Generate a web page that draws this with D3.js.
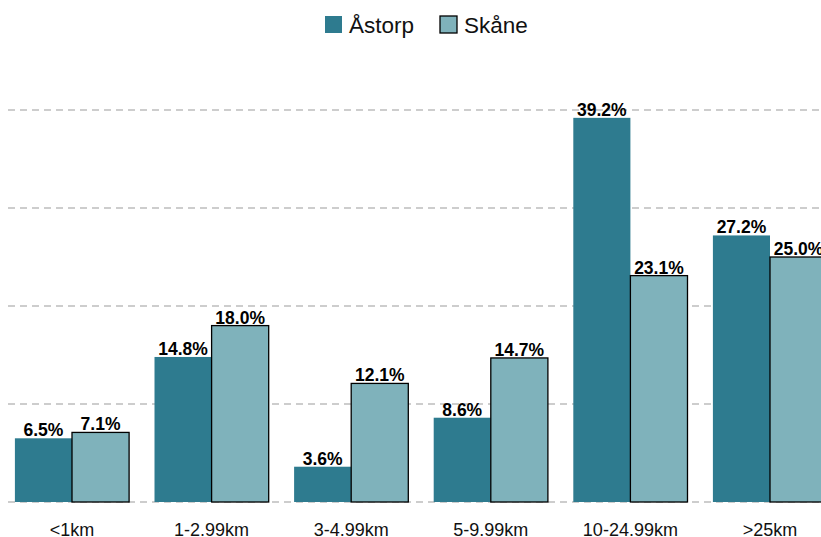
<!DOCTYPE html>
<html>
<head>
<meta charset="utf-8">
<script src="https://cdn.jsdelivr.net/npm/d3@7"></script>
<style>
  body { margin: 0; background: #fff; }
  text { font-family: "Liberation Sans", Arial, sans-serif; }
</style>
</head>
<body>
<div id="chart"></div>
<script>
let categories = ["<1km", "1-2.99km", "3-4.99km", "5-9.99km", "10-24.99km", ">25km"];
let seriesNames = ["Åstorp", "Skåne"];
let astorp = [6.5, 14.8, 3.6, 8.6, 39.2, 27.2];
let skane = [7.1, 18.0, 12.1, 14.7, 23.1, 25.0];
let gridValues = [0, 10, 20, 30, 40];

let colors = { "Åstorp": "#2e7b8f", "Skåne": "#7fb2bb" };
let W = 821, H = 537;

let data = categories.map((c, i) => ({ cat: c, values: [
    { key: "Åstorp", v: astorp[i] },
    { key: "Skåne", v: skane[i] }
]}));

let svg = d3.select("#chart")
    .append("svg")
        .attr("width", W)
        .attr("height", H);

// x band per category
let x0 = d3.scaleBand()
    .domain(categories)
    .range([2.2, 839.8])
    .padding(0);

let groupW = x0.bandwidth() * 0.818;
let x1 = d3.scaleBand()
    .domain(seriesNames)
    .range([0, groupW]);

let y = d3.scaleLinear()
    .domain([0, 40])
    .range([502, 110]);

// dashed grid
svg.append("g")
    .selectAll("line")
    .data(gridValues)
    .enter()
    .append("line")
    .attr("x1", 8)
    .attr("x2", W)
    .attr("y1", d => y(d))
    .attr("y2", d => y(d))
    .attr("stroke", "#bdbdbd")
    .attr("stroke-width", 1.4)
    .attr("stroke-dasharray", "7,5");

let groups = svg.append("g")
    .selectAll("g")
    .data(data)
    .enter()
    .append("g")
    .attr("transform", d => "translate(" + (x0(d.cat) + (x0.bandwidth() - groupW) / 2) + ",0)");

groups.selectAll("rect")
    .data(d => d.values)
    .enter()
    .append("rect")
    .attr("x", d => x1(d.key))
    .attr("y", d => y(d.v))
    .attr("width", x1.bandwidth())
    .attr("height", d => y(0) - y(d.v))
    .attr("fill", d => colors[d.key])
    .attr("stroke", d => d.key == "Skåne" ? "#000" : "none")
    .attr("stroke-width", 1.3);

groups.selectAll("text")
    .data(d => d.values)
    .enter()
    .append("text")
    .attr("x", d => x1(d.key) + x1.bandwidth() / 2)
    .attr("y", d => y(d.v) - 2)
    .attr("text-anchor", "middle")
    .style("font-size", "17.5px")
    .style("font-weight", "bold")
    .text(d => d.v.toFixed(1) + "%");

// x axis labels
svg.append("g")
    .selectAll("text")
    .data(categories)
    .enter()
    .append("text")
    .attr("x", d => x0(d) + x0.bandwidth() / 2)
    .attr("y", 536)
    .attr("text-anchor", "middle")
    .style("font-size", "18px")
    .attr("fill", "#111")
    .text(d => d);

// legend
let legend = svg.append("g");
let legendX = [325, 440];
seriesNames.forEach((s, i) => {
    legend.append("rect")
        .attr("x", legendX[i])
        .attr("y", 16)
        .attr("width", 17)
        .attr("height", 17)
        .attr("fill", colors[s])
        .attr("stroke", s == "Skåne" ? "#000" : "none")
        .attr("stroke-width", 1.3);
    legend.append("text")
        .attr("x", legendX[i] + 24)
        .attr("y", 33)
        .style("font-size", "22.5px")
        .attr("fill", "#111")
        .text(s);
});
</script>
</body>
</html>
